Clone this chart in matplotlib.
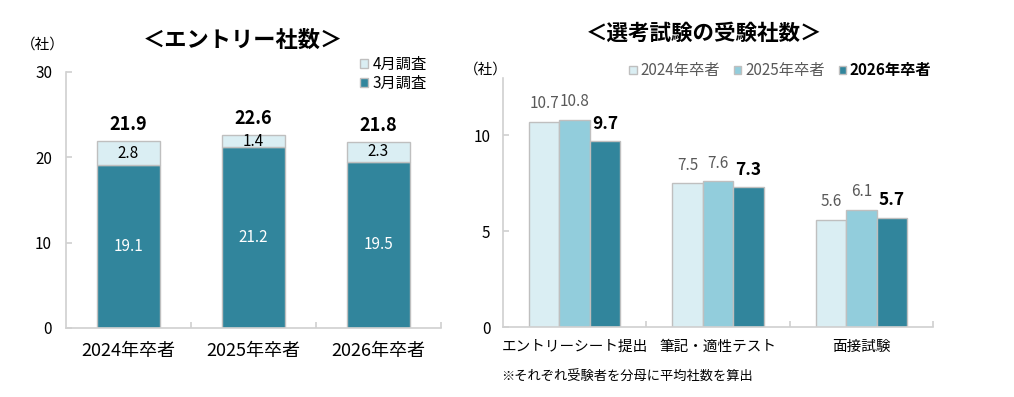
import matplotlib
matplotlib.use("Agg")
import matplotlib.pyplot as plt
from matplotlib.patches import Patch

plt.rcParams['font.family'] = ['Noto Sans CJK JP', 'DejaVu Sans']

# ---- data ----
years = ['2024年卒者', '2025年卒者', '2026年卒者']
march = [19.1, 21.2, 19.5]
april = [2.8, 1.4, 2.3]
totals = [21.9, 22.6, 21.8]

stages = ['エントリーシート提出', '筆記・適性テスト', '面接試験']
series_names = ['2024年卒者', '2025年卒者', '2026年卒者']
v2024 = [10.7, 7.5, 5.6]
v2025 = [10.8, 7.6, 6.1]
v2026 = [9.7, 7.3, 5.7]

C_LIGHT = '#DAEEF3'
C_MID = '#92CDDC'
C_DARK = '#31859C'
EDGE = '#BFBFBF'
AXC = '#D0D0D0'
GREY_TXT = '#595959'

W, H = 1014, 397
fig = plt.figure(figsize=(W / 100, H / 100), dpi=100)


def style_axes(ax, n, ypad, xpad, xsize):
    for s in ['top', 'right']:
        ax.spines[s].set_visible(False)
    for s in ['left', 'bottom']:
        ax.spines[s].set_color(AXC)
        ax.spines[s].set_linewidth(1.2)
    ax.set_xlim(-0.5, n - 0.5)
    ax.tick_params(axis='x', length=0, pad=xpad, labelsize=xsize)
    ax.set_xticks([i + 0.5 for i in range(n)], minor=True)
    ax.tick_params(axis='x', which='minor', direction='in', length=4, color=AXC, width=1.2)
    ax.tick_params(axis='y', direction='in', length=4, color=AXC, width=1.2, pad=ypad, labelsize=11)


# ---- left chart ----
axL = fig.add_axes([66 / W, 69 / H, 375 / W, 256 / H])
x = range(len(years))
axL.bar(x, march, width=0.5, color=C_DARK, edgecolor=EDGE, linewidth=1, label='3月調査', zorder=2)
axL.bar(x, april, width=0.5, bottom=march, color=C_LIGHT, edgecolor=EDGE, linewidth=1, label='4月調査', zorder=2)
axL.set_ylim(0, 30)
axL.set_yticks([0, 10, 20, 30])
axL.set_xticks(range(len(years)))
axL.set_xticklabels(years)
style_axes(axL, len(years), ypad=10, xpad=10, xsize=13)
for i in x:
    axL.text(i, march[i] / 2, f'{march[i]:.1f}', ha='center', va='center', color='white', fontsize=11)
    axL.text(i, march[i] + april[i] / 2, f'{april[i]:.1f}', ha='center', va='center', color='black', fontsize=11)
    axL.annotate(f'{totals[i]:.1f}', (i, totals[i]), xytext=(0, 5), textcoords='offset points',
                 ha='center', va='bottom', fontsize=13, fontweight='bold')

hL = [Patch(facecolor=C_LIGHT, edgecolor=EDGE), Patch(facecolor=C_DARK, edgecolor=EDGE)]
legL = fig.legend(hL, ['4月調査', '3月調査'], loc='upper left', bbox_to_anchor=(354 / W, 1 - 50 / H),
                  frameon=False, fontsize=11, handlelength=0.5, handleheight=0.5, handletextpad=0.3,
                  labelspacing=0.1, borderaxespad=0)

fig.text(243 / W, 1 - 40 / H, '＜エントリー社数＞', ha='center', va='center', fontsize=16, fontweight='bold')
fig.text(43 / W, 1 - 45 / H, '（社）', ha='center', va='center', fontsize=10.5)

# ---- right chart ----
axR = fig.add_axes([503 / W, 70 / H, 430 / W, 249 / H])
bw = 0.212
series = [v2024, v2025, v2026]
colors = [C_LIGHT, C_MID, C_DARK]
for k, (vals, col, name) in enumerate(zip(series, colors, series_names)):
    pos = [i + (k - 1) * bw for i in range(len(stages))]
    axR.bar(pos, vals, width=bw, color=col, edgecolor=EDGE, linewidth=1, label=name, zorder=2)
    for p, v in zip(pos, vals):
        if k == 2:
            axR.annotate(f'{v:.1f}', (p, v), xytext=(0, 6), textcoords='offset points',
                         ha='center', va='bottom', fontsize=12.5, fontweight='bold', color='black')
        else:
            axR.annotate(f'{v:.1f}', (p, v), xytext=(0, 7), textcoords='offset points',
                         ha='center', va='bottom', fontsize=11, color=GREY_TXT)
axR.set_ylim(0, 13)
axR.set_yticks([0, 5, 10])
axR.set_xticks(range(len(stages)))
axR.set_xticklabels(stages)
style_axes(axR, len(stages), ypad=9, xpad=9, xsize=10.5)

hR = [Patch(facecolor=c, edgecolor=EDGE) for c in colors]
legR = fig.legend(hR, series_names, loc='center left', bbox_to_anchor=(623 / W, 1 - 71 / H),
                  ncol=3, frameon=False, fontsize=11, handlelength=0.5, handleheight=0.5,
                  handletextpad=0.25, columnspacing=0.9, borderaxespad=0)
for t, c, w in zip(legR.get_texts(), [GREY_TXT, GREY_TXT, 'black'], ['normal', 'normal', 'bold']):
    t.set_color(c)
    t.set_fontweight(w)

fig.text(704 / W, 1 - 33 / H, '＜選考試験の受験社数＞', ha='center', va='center', fontsize=15.5, fontweight='bold')
fig.text(486 / W, 1 - 70 / H, '（社）', ha='center', va='center', fontsize=10.5)
fig.text(501 / W, 1 - 377 / H, '※それぞれ受験者を分母に平均社数を算出', ha='left', va='center', fontsize=9.5)

fig.savefig('out.png', dpi=100)
